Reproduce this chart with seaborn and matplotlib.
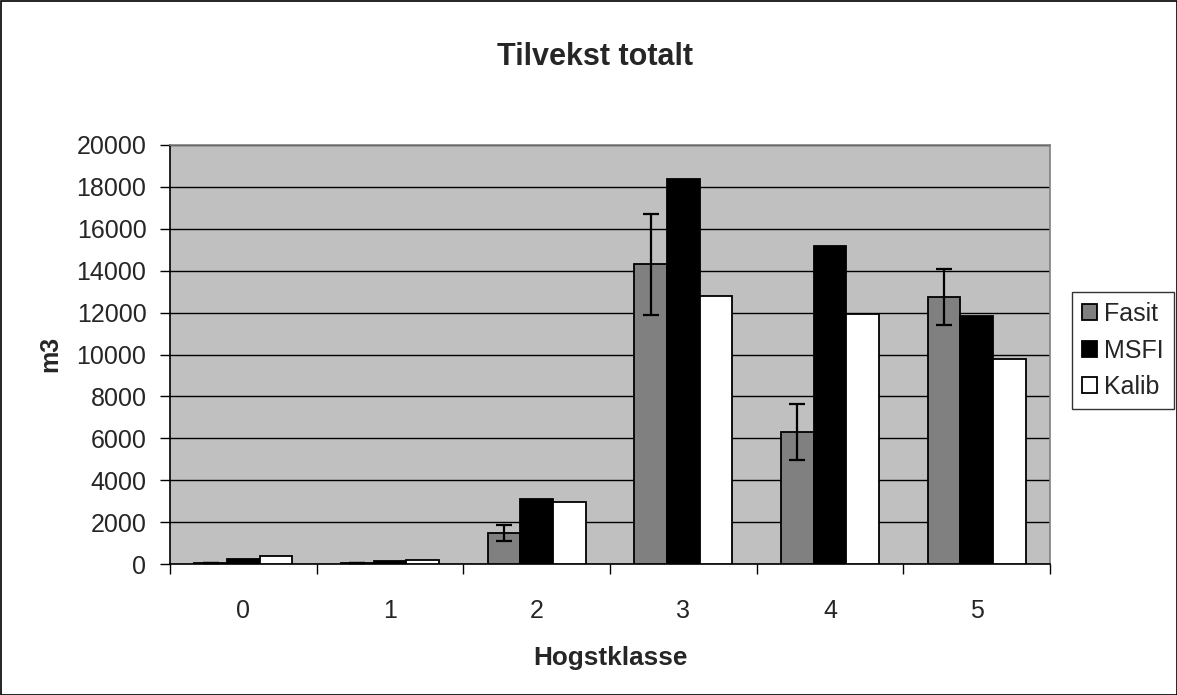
import matplotlib
matplotlib.use("Agg")
import matplotlib.pyplot as plt
import seaborn as sns
import pandas as pd
import numpy as np
from matplotlib.patches import Rectangle

categories = ["0", "1", "2", "3", "4", "5"]
series = ["Fasit", "MSFI", "Kalib"]
fasit = [70, 60, 1500, 14300, 6300, 12750]
msfi = [230, 120, 3100, 18400, 15200, 11850]
kalib = [400, 190, 2950, 12800, 11950, 9800]
fasit_err = [0, 0, 380, 2430, 1340, 1350]
yticks = [0, 2000, 4000, 6000, 8000, 10000, 12000, 14000, 16000, 18000, 20000]

colors = {"Fasit": "#808080", "MSFI": "#000000", "Kalib": "#FFFFFF"}

df = pd.DataFrame({
    "Hogstklasse": categories * 3,
    "value": fasit + msfi + kalib,
    "series": [s for s in series for _ in categories],
})

sns.set_style("white")
plt.rcParams["font.family"] = ["Liberation Sans", "DejaVu Sans"]

FS = 18

fig = plt.figure(figsize=(11.77, 6.95), dpi=100)
ax = fig.add_axes([170/1177, 1-564/695, 880/1177, 419/695])

sns.barplot(data=df, x="Hogstklasse", y="value", hue="series", hue_order=series,
            order=categories, palette=colors, errorbar=None, width=0.6667,
            edgecolor="black", linewidth=1.3, ax=ax, legend=False, zorder=3)

ax.set_facecolor("#C0C0C0")
ax.set_ylim(0, 20000)
ax.set_xlim(-0.5, len(categories) - 0.5)
ax.set_yticks(yticks)
ax.set_yticklabels([str(v) for v in yticks], fontsize=FS)
ax.yaxis.grid(True, color="black", linewidth=1.0, zorder=0)
ax.set_axisbelow(True)
for s in ax.spines.values():
    s.set_color("#808080")
    s.set_linewidth(1.2)
ax.spines["bottom"].set_color("black")
ax.spines["left"].set_color("black")

# x ticks at category boundaries, labels at centers
ax.set_xticks(np.arange(len(categories)))
ax.set_xticklabels(categories, fontsize=FS)
ax.tick_params(axis="x", length=0, pad=25)
ax.set_xticks(np.arange(-0.5, len(categories), 1.0), minor=True)
ax.tick_params(axis="x", which="minor", length=7, width=1, color="black", direction="out")
ax.tick_params(axis="y", length=7, width=1, color="black", direction="out", pad=10)
ax.tick_params(bottom=True, left=True)
ax.xaxis.set_tick_params(which="minor", bottom=True)

# error bars on Fasit bars
fasit_patches = ax.patches[:len(categories)]
xs = [p.get_x() + p.get_width() / 2 for p in fasit_patches]
ax.errorbar(xs, fasit, yerr=fasit_err, fmt="none", ecolor="black",
            elinewidth=1.6, capsize=5.8, capthick=1.6, zorder=4)

ax.set_xlabel("Hogstklasse", fontsize=18.8, fontweight="bold")
ax.xaxis.set_label_coords(0.5, (564-658)/419)
ax.xaxis.label.set_va("center")
ax.set_ylabel("m3", fontsize=FS, fontweight="bold")
ax.yaxis.set_label_coords((50-170)/880, (564-354)/419)
ax.yaxis.label.set_va("center")
fig.text(595/1177, 1-57/695, "Tilvekst totalt", ha="center", va="center",
         fontsize=22, fontweight="bold")

handles = [Rectangle((0, 0), 1, 1, facecolor=colors[s], edgecolor="black", linewidth=1.3)
           for s in series]
leg = fig.legend(handles, series, loc="upper left", bbox_to_anchor=(1072/1177, 1-292/695),
                 fontsize=FS, frameon=True, fancybox=False, edgecolor="black",
                 handlelength=0.6, handleheight=0.6, handletextpad=0.3,
                 borderpad=0.4, labelspacing=0.5, borderaxespad=0)
leg.get_frame().set_linewidth(1.0)

fig.patches.append(Rectangle((0.5/1177, 0.5/695), 1 - 1/1177, 1 - 1/695,
                             transform=fig.transFigure, fill=False,
                             edgecolor="black", linewidth=1.2))

fig.savefig("out.png", dpi=100)
